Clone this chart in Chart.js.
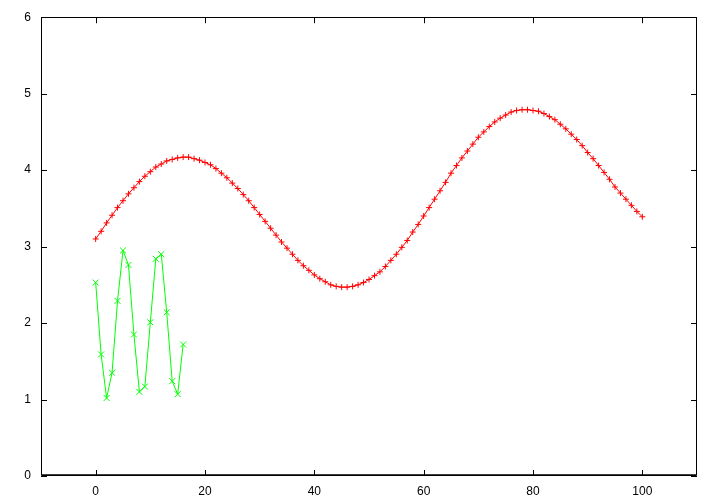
<!DOCTYPE html>
<html>
<head>
<meta charset="utf-8">
<script src="https://cdn.jsdelivr.net/npm/chart.js@4/dist/chart.umd.min.js"></script>
<style>
html,body{margin:0;padding:0;background:#fff;}
canvas{display:block;}
</style>
</head>
<body>
<canvas id="c" width="720" height="504"></canvas>
<script>
// ---- data ----
const redX = [];
for (let i = 0; i <= 100; i++) redX.push(i);
const redY = [
3.10,3.20,3.31,3.41,3.51,3.60,3.69,3.77,3.85,3.92,
3.98,4.04,4.08,4.12,4.14,4.16,4.17,4.17,4.15,4.13,
4.10,4.07,4.02,3.96,3.90,3.83,3.76,3.68,3.60,3.51,
3.42,3.33,3.24,3.15,3.06,2.98,2.90,2.82,2.75,2.69,
2.63,2.58,2.54,2.50,2.48,2.47,2.47,2.48,2.50,2.53,
2.57,2.62,2.67,2.74,2.82,2.90,2.99,3.08,3.19,3.29,
3.40,3.51,3.62,3.73,3.84,3.96,4.06,4.16,4.25,4.34,
4.43,4.50,4.57,4.63,4.68,4.72,4.76,4.78,4.79,4.79,
4.78,4.77,4.74,4.70,4.66,4.60,4.54,4.47,4.40,4.32,
4.23,4.15,4.06,3.97,3.88,3.78,3.70,3.62,3.54,3.46,
3.39
];
const greenX = [0,1,2,3,4,5,6,7,8,9,10,11,12,13,14,15,16];
const greenY = [2.53,1.59,1.02,1.35,2.29,2.95,2.76,1.85,1.10,1.17,2.01,2.84,2.90,2.14,1.24,1.07,1.72];
const xTickValues = [0,20,40,60,80,100];
const yTickValues = [0,1,2,3,4,5,6];

const toPts = (xs, ys) => xs.map((x, i) => ({x: x, y: ys[i]}));

const frameTicks = {
  id: 'frameTicks',
  afterDraw(chart) {
    const ctx = chart.ctx;
    const a = chart.chartArea;
    const xs = chart.scales.x, ys = chart.scales.y;
    const L = 6;
    ctx.save();
    ctx.strokeStyle = '#000';
    ctx.lineWidth = 1;
    ctx.beginPath();
    ctx.rect(Math.round(a.left) + 0.5, Math.round(a.top) + 0.5,
             Math.round(a.right - a.left) - 1, Math.round(a.bottom - a.top) - 1);
    ctx.stroke();
    // slightly heavier bottom edge
    ctx.beginPath();
    ctx.moveTo(a.left, Math.round(a.bottom) - 1.5);
    ctx.lineTo(a.right, Math.round(a.bottom) - 1.5);
    ctx.strokeStyle = 'rgba(0,0,0,0.75)';
    ctx.stroke();
    ctx.strokeStyle = '#000';
    ctx.beginPath();
    xs.ticks.forEach(t => {
      const px = Math.round(xs.getPixelForValue(t.value)) + 0.5;
      ctx.moveTo(px, a.bottom); ctx.lineTo(px, a.bottom - L);
      ctx.moveTo(px, a.top); ctx.lineTo(px, a.top + L);
    });
    ys.ticks.forEach(t => {
      const py = Math.round(ys.getPixelForValue(t.value)) + 0.5;
      ctx.moveTo(a.left, py); ctx.lineTo(a.left + L, py);
      ctx.moveTo(a.right, py); ctx.lineTo(a.right - L, py);
    });
    ctx.stroke();
    ctx.restore();
  }
};

new Chart(document.getElementById('c'), {
  type: 'scatter',
  data: {
    datasets: [
      {
        data: toPts(redX, redY),
        showLine: true,
        borderColor: 'rgb(255,0,0)',
        backgroundColor: 'rgb(255,0,0)',
        borderWidth: 1,
        pointStyle: 'cross',
        pointRadius: 3,
        pointBorderWidth: 1,
        pointBorderColor: 'rgb(255,0,0)'
      },
      {
        data: toPts(greenX, greenY),
        showLine: true,
        borderColor: 'rgb(0,255,0)',
        backgroundColor: 'rgb(0,255,0)',
        borderWidth: 1,
        pointStyle: 'crossRot',
        pointRadius: 4.2,
        pointBorderWidth: 1,
        pointBorderColor: 'rgb(0,255,0)'
      }
    ]
  },
  options: {
    responsive: false,
    animation: false,
    devicePixelRatio: 1,
    layout: { padding: { left: 0, right: 23, top: 16, bottom: 0 } },
    plugins: { legend: { display: false }, tooltip: { enabled: false } },
    scales: {
      x: {
        type: 'linear',
        min: -10, max: 110,
        afterBuildTicks: s => { s.ticks = xTickValues.map(v => ({value: v})); },
        afterFit: s => { s.height = 28; },
        grid: { display: false, drawTicks: false },
        border: { display: false },
        ticks: { padding: 8, color: '#000', font: { family: 'Liberation Sans', size: 12 } }
      },
      y: {
        type: 'linear',
        min: 0, max: 6,
        afterBuildTicks: s => { s.ticks = yTickValues.map(v => ({value: v})); },
        afterFit: s => { s.width = 41; },
        grid: { display: false, drawTicks: false },
        border: { display: false },
        ticks: { padding: 10, color: '#000', font: { family: 'Liberation Sans', size: 12 } }
      }
    }
  },
  plugins: [frameTicks]
});
</script>
</body>
</html>
